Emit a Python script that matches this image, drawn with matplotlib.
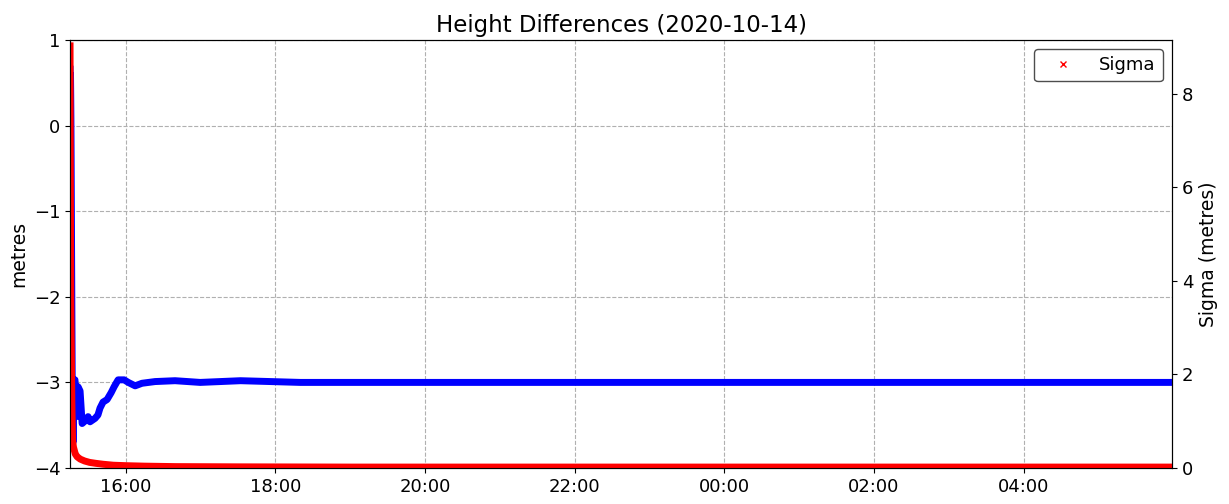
import pandas as pd
import matplotlib
matplotlib.use('Agg')
import matplotlib.pyplot as plt
import matplotlib.dates as mdates
from matplotlib.lines import Line2D

# height difference (metres)
height_times = [
    '2020-10-14 15:15:18', '2020-10-14 15:15:30', '2020-10-14 15:15:40',
    '2020-10-14 15:15:50', '2020-10-14 15:16:00', '2020-10-14 15:16:10',
    '2020-10-14 15:16:20', '2020-10-14 15:16:30', '2020-10-14 15:16:40',
    '2020-10-14 15:16:50', '2020-10-14 15:17:00', '2020-10-14 15:17:20',
    '2020-10-14 15:17:40', '2020-10-14 15:18:30', '2020-10-14 15:19:15',
    '2020-10-14 15:20:30', '2020-10-14 15:21:40', '2020-10-14 15:23:20',
    '2020-10-14 15:25:00', '2020-10-14 15:27:20', '2020-10-14 15:29:45',
    '2020-10-14 15:31:20', '2020-10-14 15:35:20', '2020-10-14 15:37:40',
    '2020-10-14 15:39:20', '2020-10-14 15:41:45', '2020-10-14 15:45:00',
    '2020-10-14 15:48:15', '2020-10-14 15:50:40', '2020-10-14 15:53:50',
    '2020-10-14 15:58:40', '2020-10-14 16:02:00', '2020-10-14 16:07:30',
    '2020-10-14 16:13:00', '2020-10-14 16:23:30', '2020-10-14 16:39:30',
    '2020-10-14 16:59:40', '2020-10-14 17:15:50', '2020-10-14 17:32:00',
    '2020-10-14 17:56:00', '2020-10-14 18:20:00', '2020-10-14 20:00:00',
    '2020-10-15 00:00:00', '2020-10-15 05:59:00',
]
height_vals = [
    0.70, 0.45, 0.60,
    0.35, 0.05, -0.40,
    -0.90, -1.40, -1.90,
    -2.40, -2.90, -3.40,
    -3.70, -3.00, -2.97,
    -3.40, -3.05, -3.10,
    -3.48, -3.45, -3.40,
    -3.46, -3.42, -3.38,
    -3.30, -3.23, -3.20,
    -3.12, -3.05, -2.97,
    -2.97, -3.00, -3.04,
    -3.01, -2.99, -2.98,
    -3.00, -2.99, -2.98,
    -2.99, -3.00, -3.00,
    -3.00, -3.00,
]

# sigma (metres)
sigma_times = [
    '2020-10-14 15:15:18', '2020-10-14 15:15:25', '2020-10-14 15:15:35',
    '2020-10-14 15:15:45', '2020-10-14 15:15:55', '2020-10-14 15:16:05',
    '2020-10-14 15:16:15', '2020-10-14 15:16:30', '2020-10-14 15:16:45',
    '2020-10-14 15:17:00', '2020-10-14 15:17:20', '2020-10-14 15:18:00',
    '2020-10-14 15:19:30', '2020-10-14 15:21:00', '2020-10-14 15:23:30',
    '2020-10-14 15:27:00', '2020-10-14 15:31:00', '2020-10-14 15:36:00',
    '2020-10-14 15:42:00', '2020-10-14 15:50:00', '2020-10-14 16:00:00',
    '2020-10-14 16:15:00', '2020-10-14 16:40:00', '2020-10-14 17:30:00',
    '2020-10-14 19:00:00', '2020-10-15 05:59:00',
]
sigma_vals = [
    9.10, 7.50, 6.00,
    4.70, 3.60, 3.10,
    2.70, 2.00, 1.40,
    1.00, 0.60, 0.45,
    0.30, 0.24, 0.19,
    0.15, 0.12, 0.10,
    0.08, 0.06, 0.05,
    0.04, 0.03, 0.025,
    0.02, 0.02,
]

h_t = pd.to_datetime(height_times)
s_t = pd.to_datetime(sigma_times)

fig = plt.figure(figsize=(12.29, 5.04), dpi=100)
ax = fig.add_axes([0.057, 0.0714, 0.8966, 0.8492])
ax.plot(h_t, height_vals, color='blue', lw=5, solid_capstyle='butt')
ax.set_ylim(-4, 1)
ax.set_xlim(h_t[0], h_t[-1])
ax.set_ylabel('metres', fontsize=13.5)
ax.set_title('Height Differences (2020-10-14)', fontsize=16.5)
ax.grid(True, linestyle='--', color='#b0b0b0')
ax.xaxis.set_major_locator(mdates.HourLocator(byhour=range(0, 24, 2)))
ax.xaxis.set_major_formatter(mdates.DateFormatter('%H:%M'))
ax.tick_params(labelsize=13)

ax2 = ax.twinx()
ax2.plot(s_t, sigma_vals, color='red', lw=5, solid_capstyle='butt')
ax2.set_ylim(0, 9.15)
ax2.set_ylabel('Sigma (metres)', fontsize=13.5)
ax2.tick_params(labelsize=13)
proxy = Line2D([], [], color='red', marker='x', ls='none', markersize=5)
leg = ax2.legend([proxy], ['Sigma'], loc='upper right', fontsize=13,
                 framealpha=1, handlelength=2.4)
leg.get_frame().set_edgecolor('0.3')

fig.savefig('out.png', dpi=100)
